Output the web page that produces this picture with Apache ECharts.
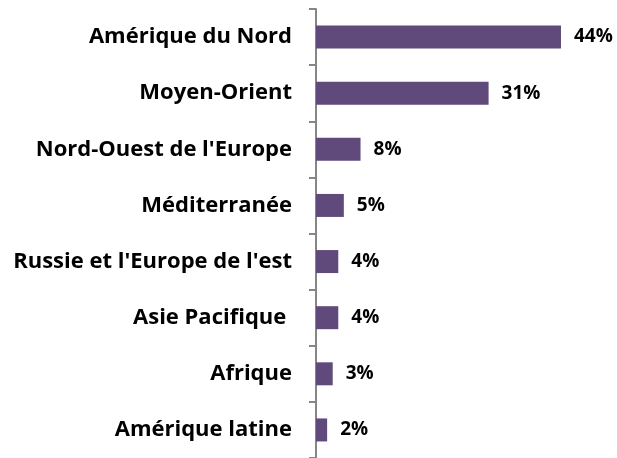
<!DOCTYPE html>
<html>
<head>
<meta charset="utf-8">
<script src="https://cdn.jsdelivr.net/npm/echarts@6/dist/echarts.min.js"></script>
<style>
  html, body { margin: 0; padding: 0; background: #fff; }
  #chart { width: 617px; height: 458px; }
</style>
</head>
<body>
<div id="chart"></div>
<script>
// regions, top to bottom
const regions = [
  'Amérique du Nord',
  'Moyen-Orient',
  "Nord-Ouest de l'Europe",
  'Méditerranée',
  "Russie et l'Europe de l'est",
  'Asie Pacifique ',
  'Afrique',
  'Amérique latine'
]
// share in percent
const shares = [44, 31, 8, 5, 4, 4, 3, 2]

const chart = echarts.init(document.getElementById('chart'))

chart.setOption({
  animation: false,
  grid: {
    left: 316,
    top: 9,
    width: 278.4,
    height: 452
  },
  xAxis: {
    type: 'value',
    min: 0,
    max: 50,
    show: false
  },
  yAxis: {
    type: 'category',
    data: regions,
    inverse: true,
    axisLine: { lineStyle: { color: '#868686', width: 2 } },
    axisTick: { show: true, length: 7, lineStyle: { color: '#868686', width: 2 } },
    axisLabel: {
      margin: 24,
      color: '#000',
      fontFamily: 'Open Sans',
      fontWeight: 'bold',
      fontSize: 22
    }
  },
  series: [{
    type: 'bar',
    data: shares,
    barWidth: 23,
    itemStyle: { color: '#604a7b' },
    label: {
      show: true,
      position: 'right',
      distance: 13,
      formatter: '{c}%',
      color: '#000',
      fontFamily: 'Open Sans',
      fontWeight: 'bold',
      fontSize: 19
    }
  }]
})
</script>
</body>
</html>
